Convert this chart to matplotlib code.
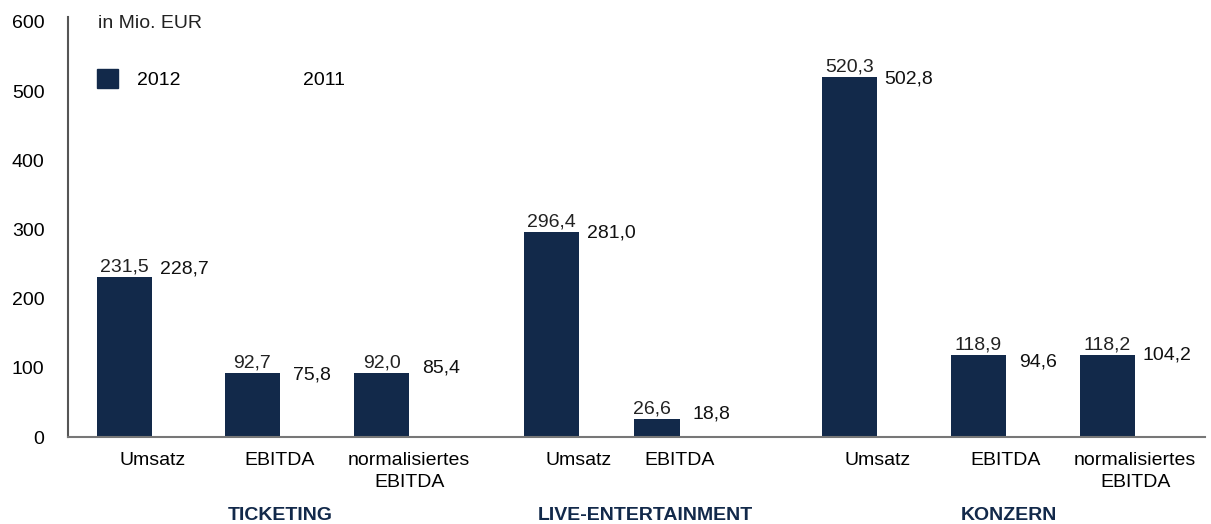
import matplotlib
matplotlib.use("Agg")
import matplotlib.pyplot as plt
from matplotlib.patches import Patch

plt.rcParams['font.family'] = ['Liberation Sans', 'DejaVu Sans']

# Data
categories = ["Umsatz", "EBITDA", "normalisiertes\nEBITDA",
              "Umsatz", "EBITDA",
              "Umsatz", "EBITDA", "normalisiertes\nEBITDA"]
values_2012 = [231.5, 92.7, 92.0, 296.4, 26.6, 520.3, 118.9, 118.2]
values_2011 = [228.7, 75.8, 85.4, 281.0, 18.8, 502.8, 94.6, 104.2]
segments = ["TICKETING", "LIVE-ENTERTAINMENT", "KONZERN"]
series_names = ["2012", "2011"]
unit_label = "in Mio. EUR"

# Layout (positions in bar-width units)
x2012 = [1.03, 3.35, 5.70, 8.79, 10.62, 14.21, 16.55, 18.90]
seg_x = [3.85, 10.5, 17.1]
bar_w = 1.0
navy = "#12294a"
fs = 14

def fmt(v):
    return f"{v:.1f}".replace(".", ",")

fig = plt.figure(figsize=(12.11, 5.24), dpi=100)
ax = fig.add_axes([0.0562, 0.166, 0.9388, 0.8016])

x2011 = [x + bar_w for x in x2012]
ax.bar(x2012, values_2012, width=bar_w, color=navy, label=series_names[0])
ax.bar(x2011, values_2011, width=bar_w, color="white", label=series_names[1])

for x, v in zip(x2012, values_2012):
    ax.text(x, v + 2, fmt(v), ha="center", va="bottom", fontsize=fs, color="#222222")
for x, v in zip(x2011, values_2011):
    ax.text(x + 0.08, v + 2, fmt(v), ha="center", va="bottom", fontsize=fs, color="#111111")

ax.set_xlim(0, 20.67)
ax.set_ylim(0, 607)
ax.set_yticks(range(0, 601, 100))
ax.tick_params(axis="y", length=0, pad=17, labelsize=fs)
ax.set_xticks([x + bar_w / 2 for x in x2012])
ax.set_xticklabels(categories, fontsize=fs, linespacing=1.35)
ax.tick_params(axis="x", length=0, pad=11)

for s in ["top", "right"]:
    ax.spines[s].set_visible(False)
ax.spines["left"].set_color("#555555")
ax.spines["left"].set_linewidth(1.5)
ax.spines["bottom"].set_color("#777777")
ax.spines["bottom"].set_linewidth(1.5)

for sx, name in zip(seg_x, segments):
    ax.text(sx, -0.187, name, transform=ax.get_xaxis_transform(), ha="center",
            va="center", fontsize=fs, fontweight="bold", color=navy)

ax.text(0.026, 0.985, unit_label, transform=ax.transAxes, fontsize=fs,
        ha="left", va="center", color="#222222")

handles = [Patch(color=navy), Patch(color="white")]
ax.legend(handles, series_names, loc="upper left", bbox_to_anchor=(0.0255, 0.875),
          ncol=2, frameon=False, fontsize=fs, handlelength=1.08, handleheight=1.08,
          columnspacing=4.2, handletextpad=1.0, borderpad=0, borderaxespad=0)

fig.savefig("out.png", dpi=100)
